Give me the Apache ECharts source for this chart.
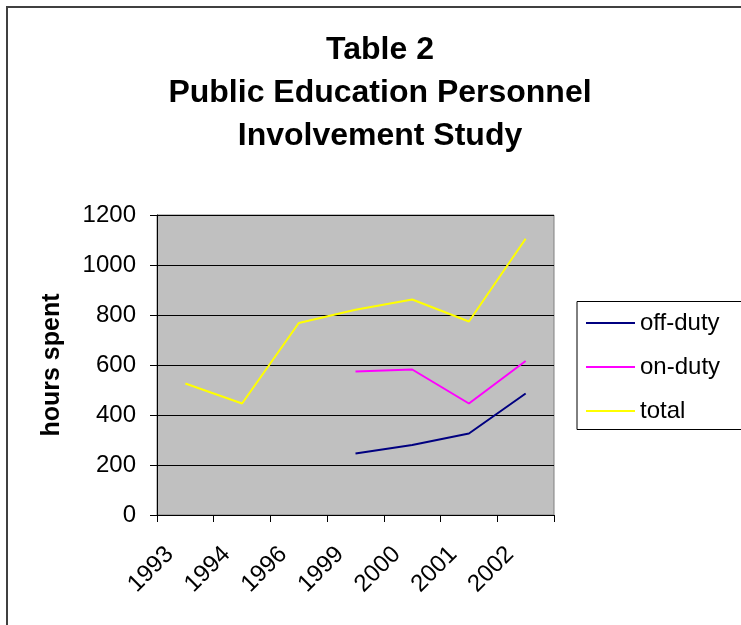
<!DOCTYPE html>
<html>
<head>
<meta charset="utf-8">
<script src="https://cdn.jsdelivr.net/npm/echarts@6/dist/echarts.min.js"></script>
<style>
html,body{margin:0;padding:0;background:#fff;}
#chart{width:741px;height:625px;}
</style>
</head>
<body>
<div id="chart"></div>
<script>
var titleLines = ['Table 2', 'Public Education Personnel', 'Involvement Study'];
var yAxisName = 'hours spent';
var years = ['1993', '1994', '1996', '1999', '2000', '2001', '2002'];
var offDuty = [null, null, null, 246, 280, 326, 486];
var onDuty = [null, null, null, 574, 582, 446, 616];
var total = [526, 446, 768, 821, 862, 774, 1105];
var seriesNames = ['off-duty', 'on-duty', 'total'];
var seriesColors = ['#000080', '#FF00FF', '#FFFF00'];

var font = 'Arial, "Liberation Sans", sans-serif';
var chart = echarts.init(document.getElementById('chart'), null, {renderer: 'canvas'});
var dataSets = [offDuty, onDuty, total];

chart.setOption({
  animation: false,
  backgroundColor: '#ffffff',
  title: {
    text: titleLines.join('\n'),
    left: 375,
    textAlign: 'center',
    top: 24,
    textStyle: {fontFamily: font, fontSize: 32, fontWeight: 'bold', color: '#000', lineHeight: 43, width: 500, align: 'center'}
  },
  graphic: [
    {type: 'rect', shape: {x: 7, y: 7, width: 800, height: 700}, style: {fill: 'none', stroke: '#404040', lineWidth: 2}, z: 0},
    {type: 'rect', shape: {x: 577, y: 301.5, width: 200, height: 128}, style: {fill: '#fff', stroke: '#000', lineWidth: 1}, z: 1}
  ],
  grid: {
    left: 157, top: 215, width: 397, height: 300,
    show: true, backgroundColor: '#C0C0C0', borderColor: '#808080', borderWidth: 1
  },
  legend: {
    orient: 'vertical',
    left: 586, top: 311,
    padding: 0,
    itemWidth: 49, itemHeight: 2, itemGap: 20,
    icon: 'rect',
    textStyle: {fontFamily: font, fontSize: 24, color: '#000'},
    data: seriesNames
  },
  xAxis: {
    type: 'category',
    data: years,
    boundaryGap: true,
    axisLine: {lineStyle: {color: '#000', width: 1}},
    axisTick: {show: true, alignWithLabel: false, length: 7, lineStyle: {color: '#000'}},
    axisLabel: {rotate: 45, margin: 20, padding: [0, 22, 0, 0], fontFamily: font, fontSize: 24, color: '#000', interval: 0},
    splitLine: {show: false}
  },
  yAxis: {
    type: 'value',
    min: 0, max: 1200, interval: 200,
    name: yAxisName,
    nameLocation: 'middle',
    nameGap: 92,
    nameRotate: 90,
    nameTextStyle: {fontFamily: font, fontSize: 25, fontWeight: 'bold', color: '#000'},
    axisLine: {show: true, lineStyle: {color: '#000', width: 1}},
    axisTick: {show: true, length: 7, lineStyle: {color: '#000'}},
    axisLabel: {margin: 21, fontFamily: font, fontSize: 24, color: '#000', formatter: function (v) { return String(v); }},
    splitLine: {show: true, lineStyle: {color: '#000', width: 1}}
  },
  series: seriesNames.map(function (n, i) {
    return {
      name: n,
      type: 'line',
      data: dataSets[i],
      symbol: 'none',
      connectNulls: false,
      lineStyle: {color: seriesColors[i], width: 2},
      itemStyle: {color: seriesColors[i]},
      z: 3
    };
  })
});
</script>
</body>
</html>
